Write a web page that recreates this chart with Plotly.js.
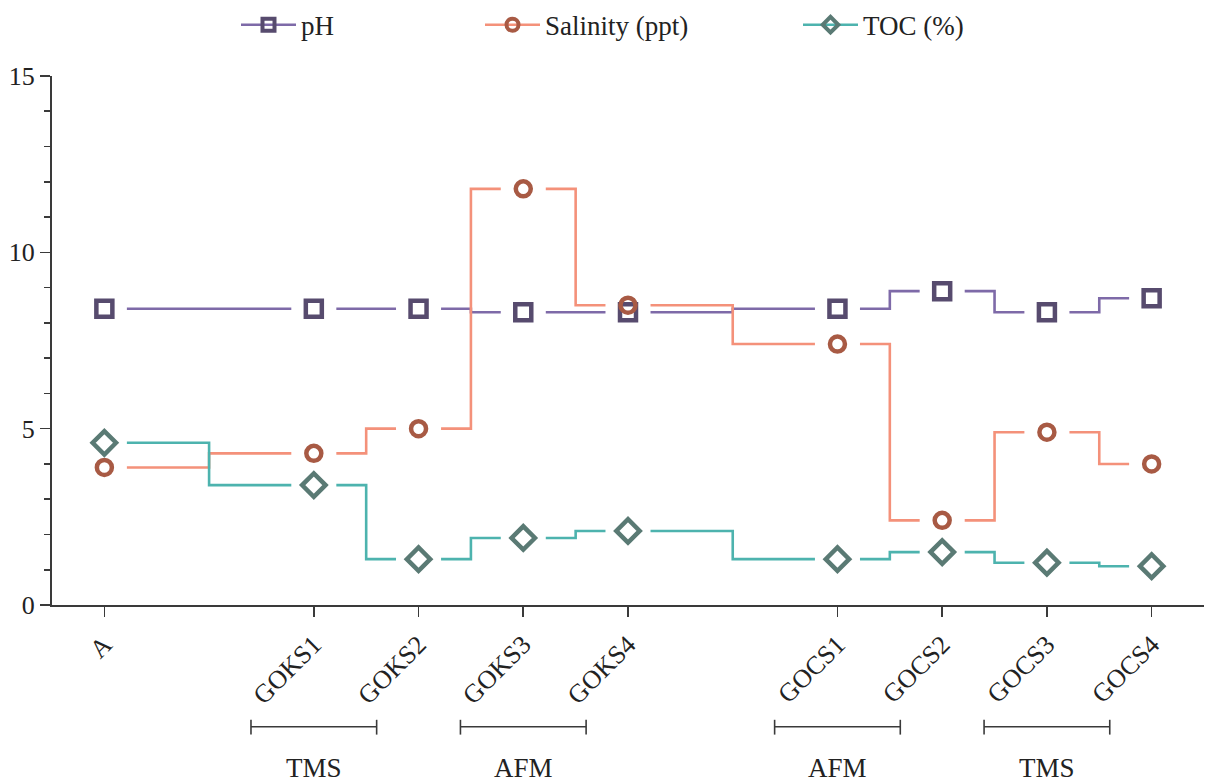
<!DOCTYPE html>
<html>
<head>
<meta charset="utf-8">
<script src="https://cdn.plot.ly/plotly-3.0.1.min.js"></script>
<style>
  html, body { margin: 0; padding: 0; background: #fff; }
  #chart { width: 1206px; height: 782px; }
</style>
</head>
<body>
<div id="chart"></div>
<script>
// Sample sections: reference site, then the two sampling transects.
const sections = [
  ['A'],
  ['GOKS1', 'GOKS2', 'GOKS3', 'GOKS4'],
  ['GOCS1', 'GOCS2', 'GOCS3', 'GOCS4']
];

// Measured values per sample (same order as the flattened sections)
const phValues       = [8.4, 8.4, 8.4, 8.3, 8.3, 8.4, 8.9, 8.3, 8.7];
const salinityValues = [3.9, 4.3, 5.0, 11.8, 8.5, 7.4, 2.4, 4.9, 4.0];
const tocValues      = [4.6, 3.4, 1.3, 1.9, 2.1, 1.3, 1.5, 1.2, 1.1];

// Treatment groups shown under the axis, keyed by their first sample
const groupLabels  = ['TMS', 'AFM', 'AFM', 'TMS'];
const groupSamples = ['GOKS1', 'GOKS3', 'GOCS1', 'GOCS3'];

// Lay out samples along x, leaving one empty slot between sections
const samples = [];
const slots = [];
let cursor = 0;
sections.forEach((sec, si) => {
  if (si > 0) cursor += 1;
  sec.forEach(name => { samples.push(name); slots.push(cursor); cursor += 1; });
});

const FONT = '"Liberation Serif", "Times New Roman", serif';
const GAP = 0.215;      // blank space left around each marker, in slot units
const HALF_BRACKET = 0.6;

// Stepped connector with a break around every marker
function stepSegments(vals) {
  const xs = [], ys = [];
  for (let i = 0; i < vals.length - 1; i++) {
    xs.push(slots[i] + GAP, slots[i + 1] - GAP, null);
    ys.push(vals[i], vals[i + 1], null);
  }
  return { xs, ys };
}

const series = [
  { name: 'pH',             vals: phValues,       line: '#7e6aa8', mark: '#574b6e', symbol: 'square-open',  size: 16, legend: 'legend'  },
  { name: 'Salinity (ppt)', vals: salinityValues, line: '#f4917a', mark: '#a85a44', symbol: 'circle-open',  size: 15, legend: 'legend2' },
  { name: 'TOC (%)',        vals: tocValues,      line: '#4db3ae', mark: '#5a7a74', symbol: 'diamond-open', size: 18, legend: 'legend3' }
];

const traces = [];
series.forEach(s => {
  const seg = stepSegments(s.vals);
  traces.push({
    type: 'scatter', mode: 'lines', x: seg.xs, y: seg.ys,
    line: { color: s.line, width: 2.6, shape: 'hvh' },
    connectgaps: false, showlegend: false, hoverinfo: 'skip'
  });
  traces.push({
    type: 'scatter', mode: 'markers', x: slots, y: s.vals, name: s.name,
    marker: { symbol: s.symbol, size: s.size, color: s.mark, line: { color: s.mark, width: 4.5 } },
    showlegend: false
  });
  // legend key: line with marker
  traces.push({
    type: 'scatter', mode: 'lines+markers', x: [null], y: [null], name: s.name,
    line: { color: s.line, width: 2.6 },
    marker: { symbol: s.symbol, size: 12, color: s.mark, line: { color: s.mark, width: 4 } },
    showlegend: true, legend: s.legend
  });
});

// Group brackets and their labels below the tick labels
const shapes = [];
const annotations = [];
const yBar = -0.2302, yTop = -0.217, yBot = -0.245;
groupSamples.forEach((name, gi) => {
  const c = slots[samples.indexOf(name)];
  const x0 = c - HALF_BRACKET, x1 = c + HALF_BRACKET;
  const ln = { color: '#3a3a3a', width: 1.6 };
  shapes.push({ type: 'line', xref: 'x', yref: 'paper', x0: x0, x1: x1, y0: yBar, y1: yBar, line: ln });
  shapes.push({ type: 'line', xref: 'x', yref: 'paper', x0: x0, x1: x0, y0: yTop, y1: yBot, line: ln });
  shapes.push({ type: 'line', xref: 'x', yref: 'paper', x0: x1, x1: x1, y0: yTop, y1: yBot, line: ln });
  annotations.push({
    xref: 'x', yref: 'paper', x: c, y: -0.3075, yanchor: 'middle', xanchor: 'center',
    text: groupLabels[gi], showarrow: false, font: { family: FONT, size: 27, color: '#222' }
  });
});

const legendBase = {
  orientation: 'h', yanchor: 'middle', y: 1.094, xanchor: 'left',
  font: { family: FONT, size: 27, color: '#222' }, bgcolor: 'rgba(0,0,0,0)',
  itemwidth: 55
};

const layout = {
  width: 1206, height: 782,
  margin: { l: 52, r: 2, t: 75, b: 177 },
  paper_bgcolor: '#fff', plot_bgcolor: '#fff',
  font: { family: FONT, color: '#222' },
  xaxis: {
    range: [-0.5, 10.5], tickmode: 'array', tickvals: slots, ticktext: samples,
    tickangle: -45, ticks: 'outside', ticklen: 10, tickwidth: 1.6, tickcolor: '#3a3a3a',
    showline: true, linecolor: '#3a3a3a', linewidth: 2, showgrid: false, zeroline: false,
    tickfont: { family: FONT, size: 26, color: '#222' }, ticklabelstandoff: 2
  },
  yaxis: {
    range: [0, 15], tickmode: 'array', tickvals: [0, 5, 10, 15],
    ticks: 'outside', ticklen: 10, tickwidth: 1.6, tickcolor: '#3a3a3a',
    minor: { dtick: 1, ticks: 'outside', ticklen: 6, tickwidth: 1.6, tickcolor: '#3a3a3a' },
    showline: true, linecolor: '#3a3a3a', linewidth: 2, showgrid: false, zeroline: false,
    tickfont: { family: FONT, size: 26, color: '#222' }
  },
  legend:  Object.assign({}, legendBase, { x: (236 - 52) / 1152 }),
  legend2: Object.assign({}, legendBase, { x: (480 - 52) / 1152 }),
  legend3: Object.assign({}, legendBase, { x: (798 - 52) / 1152 }),
  shapes: shapes,
  annotations: annotations,
  showlegend: true
};

Plotly.newPlot('chart', traces, layout, { displayModeBar: false, staticPlot: true });
</script>
</body>
</html>
